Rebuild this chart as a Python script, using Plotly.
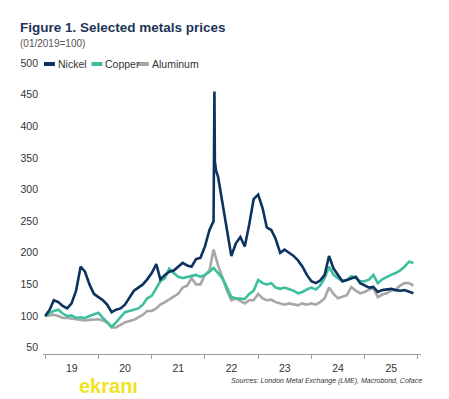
import pandas as pd
import plotly.graph_objects as go

# ---- data (index, 01/2019 = 100), monthly from Jan 2019 ----
months = pd.date_range("2019-01-01", periods=84, freq="MS")

nickel = [100, 110, 125, 122, 116, 112, 120, 140, 178, 170, 150, 135,
          130, 125, 118, 106, 110, 112, 118, 128, 140, 145, 150, 158,
          168, 182, 158, 165, 170, 172, 178, 184, 180, 178, 190, 192,
          210, 236, 250, 320, 280, 235, 195, 215, 225, 210, 245, 285,
          292, 270, 240, 236, 222, 200, 205, 200, 195, 188, 178, 165,
          155, 152, 156, 165, 195, 175, 165, 155, 157, 160, 162, 152,
          148, 145, 146, 138, 141, 142, 143, 141, 140, 141, 138, 136]
# March 2022 LME nickel squeeze (intra-month points)
nickel_spike_dates = ["2022-03-07", "2022-03-10", "2022-03-18"]
nickel_spike = [455, 345, 330]

copper = [100, 105, 108, 110, 104, 100, 101, 97, 98, 97, 100, 103,
          105, 97, 90, 83, 90, 98, 106, 108, 110, 112, 118, 128,
          132, 145, 155, 160, 175, 168, 162, 160, 162, 163, 165, 162,
          165, 170, 176, 168, 160, 145, 130, 128, 128, 127, 135, 140,
          157, 152, 150, 152, 145, 143, 145, 143, 140, 136, 138, 142,
          145, 142, 148, 160, 178, 165, 160, 155, 157, 163, 160, 155,
          155, 158, 165, 152, 158, 162, 165, 168, 172, 178, 186, 184]

aluminum = [100, 101, 102, 100, 97, 97, 96, 95, 94, 93, 94, 95,
            95, 93, 90, 82, 82, 86, 90, 92, 94, 98, 102, 108,
            108, 112, 118, 122, 126, 130, 135, 145, 148, 160, 150, 150,
            165, 172, 205, 180, 160, 140, 125, 128, 124, 120, 125, 125,
            135, 128, 125, 126, 122, 120, 118, 120, 118, 117, 120, 118,
            120, 118, 122, 128, 145, 135, 128, 130, 133, 146, 140, 136,
            138, 142, 144, 130, 134, 136, 140, 142, 148, 152, 152, 148]

names = ["Nickel", "Copper", "Aluminum"]
colors = ["#0c3360", "#3dbf9d", "#a7a7a7"]
year_ticks = ["19", "20", "21", "22", "23", "24", "25"]

# nickel with spike points merged in date order
ni = pd.Series(nickel, index=months)
ni = pd.concat([ni, pd.Series(nickel_spike, index=pd.to_datetime(nickel_spike_dates))]).sort_index()

series_x = [ni.index, months, months]
series_y = [ni.values, copper, aluminum]

fig = go.Figure()
# draw aluminum first, nickel last (on top)
for i in [2, 1, 0]:
    fig.add_trace(go.Scatter(x=series_x[i], y=series_y[i], mode="lines", name=names[i],
                             line=dict(color=colors[i], width=2.6), showlegend=False))

font = "Arial, 'Liberation Sans', sans-serif"
PW, PH = 382, 291  # plot area size in px
fig.update_layout(
    width=441, height=391,
    margin=dict(l=31, r=28, t=55, b=45),
    paper_bgcolor="white", plot_bgcolor="white",
    font=dict(family=font, size=10, color="#333333"),
    xaxis=dict(range=["2018-12-17", "2026-01-22"], showgrid=False, zeroline=False,
               showline=True, linecolor="#9a9a9a", linewidth=1,
               ticks="outside", ticklen=4, tickcolor="#9a9a9a",
               dtick="M12", tick0="2019-01-01", tickformat="%y",
               ticklabelmode="period", tickfont=dict(size=10.5, color="#333333")),
    yaxis=dict(range=[40, 500], showgrid=False, zeroline=False, showline=False,
               tickvals=[50, 100, 150, 200, 250, 300, 350, 400, 450, 500],
               ticks="", ticklabelstandoff=4, tickfont=dict(size=10.5, color="#333333")),
)

# title and subtitle
fig.add_annotation(text="<b>Figure 1. Selected metals prices</b>", xref="paper", yref="paper",
                   x=-25/PW, y=1 + 35/PH, xanchor="left", yanchor="middle", showarrow=False,
                   font=dict(size=13.5, color="#1c3557", family=font))
fig.add_annotation(text="(01/2019=100)", xref="paper", yref="paper",
                   x=-25/PW, y=1 + 20/PH, xanchor="left", yanchor="middle", showarrow=False,
                   font=dict(size=10, color="#555555", family=font))

# legend (manual, compact)
leg_px = [40, 88, 135]
for i, name in enumerate(names):
    x0 = (leg_px[i] - 39) / PW
    x1 = (leg_px[i] + 11 - 39) / PW
    fig.add_shape(type="line", xref="paper", yref="paper", x0=x0, x1=x1, y0=1 - 1/PH, y1=1 - 1/PH,
                  line=dict(color=colors[i], width=4))
    fig.add_annotation(text=name, xref="paper", yref="paper", x=x1 + 1/PW, y=1 - 1/PH,
                       xanchor="left", yanchor="middle", showarrow=False,
                       font=dict(size=10.5, color="#333333", family=font))

# source note
fig.add_annotation(text="<i>Sources: London Metal Exchange (LME), Macrobond, Coface</i>",
                   xref="paper", yref="paper", x=1 + 3/PW, y=-27/PH, xanchor="right",
                   yanchor="middle", showarrow=False, font=dict(size=7, color="#333333", family=font))

# watermark
fig.add_annotation(text="<b>ekranı</b>", xref="paper", yref="paper", x=(73 - 39)/PW, y=-32/PH,
                   xanchor="left", yanchor="middle", showarrow=False,
                   font=dict(size=20, color="#f0e41c", family=font))

fig.write_html("out.html")
